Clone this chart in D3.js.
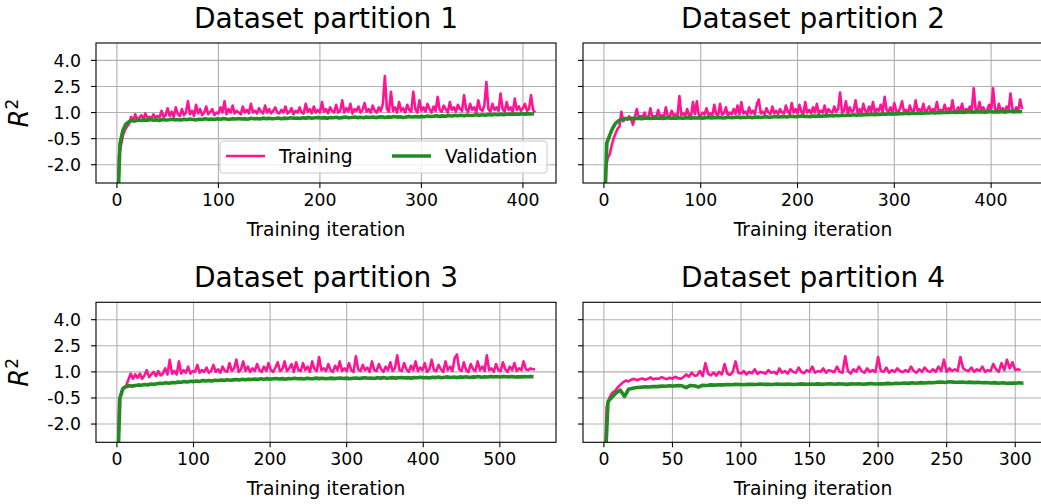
<!DOCTYPE html>
<html>
<head>
<meta charset="utf-8">
<script src="https://cdn.jsdelivr.net/npm/d3@7"></script>
<style>
  body { margin: 0; background: #fff; }
  svg { font-family: "DejaVu Sans", sans-serif; }
</style>
</head>
<body>
<svg id="chart" width="1041" height="504"></svg>
<script>
var titles = ["Dataset partition 1", "Dataset partition 2", "Dataset partition 3", "Dataset partition 4"];
var lastIter = [412, 432, 546, 305];
var trainStep = [2, 2, 3, 2];
var valStep = [3, 3, 4, 3];
var xTicks = [
  [0, 100, 200, 300, 400],
  [0, 100, 200, 300, 400],
  [0, 100, 200, 300, 400, 500],
  [0, 50, 100, 150, 200, 250, 300]
];
var yTicks = [-2, -0.5, 1, 2.5, 4];
var yTickLabels = ["-2.0", "-0.5", "1.0", "2.5", "4.0"];
var seriesNames = ["Training", "Validation"];

// R^2 per iteration
var train1 = [
  -6, -1.5, -0.9, -0.3, 0.0, 0.2, 0.35, 0.75, 0.5, 0.9,
  0.6, 0.7, 0.85, 0.65, 0.95, 0.7, 0.75, 0.65, 0.9, 0.7,
  0.8, 0.72, 1.1, 0.75, 0.85, 1.25, 0.8, 1.05, 0.75, 1.3,
  0.9, 0.8, 1.2, 0.85, 1.0, 1.65, 0.9, 1.1, 0.8, 1.45,
  0.95, 1.2, 0.85, 1.0, 1.35, 0.9, 1.05, 1.2, 0.85, 1.0,
  0.95, 1.3, 1.0, 1.65, 0.9, 1.2, 1.0, 1.4, 0.95, 1.1,
  1.0, 0.9, 1.35, 1.0, 1.15, 0.95, 1.5, 1.0, 1.1, 0.95,
  1.25, 1.05, 0.95, 1.4, 1.0, 1.2, 0.95, 1.1, 1.3, 1.0,
  0.95, 1.15, 1.0, 1.35, 0.95, 1.05, 1.25, 0.9, 1.1, 1.0,
  1.3, 1.0, 0.95, 1.5, 1.05, 1.2, 0.95, 1.35, 1.0, 1.15,
  1.0, 1.6, 1.05, 1.2, 0.95, 1.3, 1.1, 1.0, 1.45, 1.0,
  1.1, 1.7, 1.0, 1.25, 1.05, 1.5, 0.95, 1.2, 1.1, 1.35,
  1.0, 1.15, 1.55, 1.05, 1.2, 1.0, 1.4, 1.1, 1.0, 1.3,
  1.1, 1.5, 3.1, 1.2, 1.05, 2.2, 1.1, 1.3, 1.0, 1.6,
  1.1, 1.25, 1.0, 1.45, 1.15, 1.05, 2.2, 1.2, 1.0, 1.7,
  1.1, 1.3, 1.05, 1.5, 1.2, 1.0, 1.35, 1.1, 1.9, 1.15,
  1.05, 1.4, 1.2, 1.0, 1.6, 1.15, 1.3, 1.05, 1.45, 1.2,
  1.1, 2.0, 1.2, 1.05, 1.5, 1.15, 1.3, 1.0, 1.7, 1.2,
  1.1, 1.4, 2.75, 1.2, 1.05, 1.5, 1.15, 1.3, 1.1, 2.1,
  1.2, 1.05, 1.6, 1.15, 1.3, 1.0, 1.8, 1.15, 1.35, 1.1,
  1.25, 1.5, 1.1, 1.2, 2.0, 1.15, 1.0
];
var val1 = [
  -6, -0.8, 0.0, 0.35, 0.48, 0.55, 0.52, 0.57, 0.55, 0.58,
  0.55, 0.6, 0.56, 0.58, 0.54, 0.6, 0.57, 0.59, 0.62, 0.58,
  0.6, 0.57, 0.62, 0.59, 0.63, 0.6, 0.58, 0.62, 0.6, 0.64,
  0.61, 0.63, 0.6, 0.65, 0.62, 0.66, 0.63, 0.61, 0.65, 0.63,
  0.66, 0.63, 0.65, 0.62, 0.67, 0.64, 0.66, 0.63, 0.68, 0.65,
  0.67, 0.64, 0.66, 0.69, 0.65, 0.68, 0.66, 0.7, 0.67, 0.69,
  0.66, 0.7, 0.68, 0.71, 0.67, 0.7, 0.72, 0.69, 0.71, 0.68,
  0.72, 0.7, 0.73, 0.69, 0.71, 0.74, 0.7, 0.72, 0.75, 0.71,
  0.73, 0.7, 0.74, 0.72, 0.75, 0.71, 0.74, 0.76, 0.72, 0.75,
  0.73, 0.77, 0.74, 0.76, 0.72, 0.75, 0.78, 0.74, 0.77, 0.75,
  0.78, 0.76, 0.8, 0.77, 0.79, 0.82, 0.78, 0.81, 0.79, 0.83,
  0.8, 0.84, 0.82, 0.85, 0.81, 0.86, 0.83, 0.85, 0.88, 0.84,
  0.87, 0.85, 0.89, 0.86, 0.9, 0.87, 0.91, 0.88, 0.9, 0.92,
  0.89, 0.92, 0.9, 0.93, 0.91, 0.94, 0.92, 0.93
];
var train2 = [
  -6, -2.2, -1.6, -1.4, -0.9, -0.5, -0.2, 0.05, 0.2, 1.05,
  0.5, 0.7, 0.6, 0.78, 0.65, 0.3, 0.75, 1.2, 0.7, 0.8,
  0.72, 1.0, 0.68, 0.75, 1.25, 0.7, 0.8, 0.72, 1.15, 0.75,
  0.85, 0.72, 1.3, 0.8, 0.75, 1.1, 0.82, 0.9, 0.78, 1.95,
  0.85, 0.95, 0.8, 1.2, 0.85, 0.78, 1.6, 0.9, 1.65, 0.85,
  0.8, 1.0, 0.88, 1.25, 0.85, 0.95, 0.82, 1.45, 0.9, 0.85,
  1.5, 0.88, 0.95, 1.3, 0.85, 1.0, 0.9, 1.2, 0.92, 1.4,
  0.9, 1.6, 0.95, 1.05, 0.88, 1.3, 0.95, 1.1, 0.9, 1.5,
  1.75, 0.95, 1.05, 0.9, 1.25, 1.0, 0.92, 1.35, 0.95, 1.1,
  0.92, 1.2, 1.0, 0.95, 1.4, 1.05, 0.9, 1.55, 1.0, 1.2,
  0.95, 1.45, 1.05, 0.9, 1.6, 1.0, 1.15, 0.95, 1.3, 1.0,
  1.5, 0.95, 1.1, 1.0, 1.4, 0.92, 1.2, 1.05, 1.0, 1.35,
  1.05, 1.2, 2.15, 1.0, 1.1, 1.65, 0.95, 1.3, 1.05, 1.15,
  1.7, 1.0, 1.2, 0.95, 1.5, 1.1, 1.0, 1.35, 1.05, 1.6,
  1.0, 1.2, 1.1, 1.45, 1.0, 1.9, 1.15, 1.05, 1.3, 1.0,
  1.55, 1.1, 1.0, 1.25, 1.65, 1.05, 1.15, 0.95, 1.4, 1.1,
  1.0, 1.7, 1.1, 1.2, 1.05, 1.5, 1.0, 1.15, 1.35, 1.05,
  1.2, 1.1, 1.6, 1.0, 1.15, 1.05, 1.45, 1.1, 1.25, 1.0,
  1.7, 1.1, 1.05, 1.3, 1.1, 1.5, 1.0, 1.2, 1.1, 1.35,
  1.1, 2.4, 1.2, 1.05, 1.6, 1.1, 1.3, 1.0, 1.15, 1.45,
  1.1, 2.4, 1.2, 1.05, 1.5, 1.1, 1.25, 1.0, 1.35, 1.1,
  2.1, 1.2, 1.05, 1.3, 1.1, 1.75, 1.2
];
var val2 = [
  -6, -0.75, -0.3, 0.1, 0.38, 0.52, 0.6, 0.63, 0.66, 0.65,
  0.67, 0.66, 0.68, 0.65, 0.67, 0.69, 0.66, 0.68, 0.67, 0.69,
  0.66, 0.68, 0.7, 0.67, 0.69, 0.68, 0.7, 0.67, 0.69, 0.71,
  0.68, 0.7, 0.69, 0.71, 0.68, 0.7, 0.72, 0.69, 0.71, 0.7,
  0.72, 0.69, 0.71, 0.73, 0.7, 0.72, 0.74, 0.71, 0.73, 0.72,
  0.74, 0.71, 0.73, 0.75, 0.72, 0.74, 0.76, 0.73, 0.75, 0.77,
  0.74, 0.76, 0.78, 0.75, 0.77, 0.79, 0.76, 0.78, 0.8, 0.77,
  0.79, 0.76, 0.8, 0.78, 0.81, 0.79, 0.82, 0.8, 0.83, 0.81,
  0.84, 0.82, 0.85, 0.83, 0.86, 0.84, 0.87, 0.85, 0.88, 0.86,
  0.89, 0.87, 0.9, 0.88, 0.91, 0.89, 0.92, 0.9, 0.93, 0.91,
  0.94, 0.92, 0.95, 0.93, 0.96, 0.94, 0.97, 0.95, 0.96, 0.98,
  0.96, 0.99, 0.97, 1.0, 0.98, 1.01, 0.99, 1.02, 1.0, 1.01,
  1.03, 1.0, 1.02, 1.04, 1.01, 1.03, 1.05, 1.02, 1.04, 1.03,
  1.05, 1.02, 1.04, 1.06, 1.03, 1.05, 1.04, 1.06, 1.03, 1.05,
  1.07, 1.04, 1.06, 1.05, 1.07
];
var train3 = [
  -6, -0.6, -0.1, 0.1, 0.2, 0.55, 0.9, 0.6, 0.85, 0.65,
  0.9, 0.6, 0.8, 1.1, 0.7, 0.85, 1.0, 0.75, 1.05, 0.8,
  0.9, 1.2, 0.85, 1.7, 0.9, 1.05, 0.85, 1.6, 0.9, 1.1,
  0.95, 1.3, 0.9, 1.05, 1.0, 1.4, 0.95, 1.1, 1.0, 1.25,
  0.95, 1.05, 1.4, 1.0, 1.15, 0.95, 1.3, 1.05, 1.0, 1.5,
  1.05, 1.2, 1.7, 1.0, 1.15, 1.6, 1.05, 1.3, 1.0, 1.2,
  1.05, 1.45, 1.1, 1.0, 1.3, 1.05, 1.5, 1.1, 1.0, 1.25,
  1.55, 1.05, 1.15, 1.6, 1.05, 1.2, 1.45, 1.0, 1.55, 1.1,
  1.05, 1.5, 1.1, 1.3, 1.0, 1.6, 1.15, 1.05, 1.85, 1.1,
  1.2, 1.05, 1.45, 1.1, 1.0, 1.35, 1.1, 1.6, 1.05, 1.2,
  1.05, 1.5, 1.1, 1.0, 1.9, 1.15, 1.05, 1.4, 1.1, 1.25,
  1.0, 1.6, 1.1, 1.05, 1.45, 1.15, 1.0, 1.3, 1.1, 1.55,
  1.05, 1.2, 1.95, 1.1, 1.05, 1.5, 1.15, 1.0, 1.35, 1.1,
  1.6, 1.05, 1.25, 1.1, 1.5, 1.0, 1.15, 1.7, 1.1, 1.05,
  1.4, 1.15, 1.0, 1.6, 1.1, 1.3, 1.05, 1.8, 2.0, 1.15,
  1.05, 1.55, 1.1, 1.0, 1.45, 1.15, 1.05, 1.6, 1.1, 1.3,
  1.05, 1.95, 1.1, 1.2, 1.0, 1.45, 1.1, 1.05, 1.55, 1.15,
  1.0, 1.3, 1.1, 1.5, 1.05, 1.2, 1.1, 1.6, 1.15, 1.1,
  1.2, 1.15, 1.15
];
var val3 = [
  -6, -0.5, 0.05, 0.15, 0.2, 0.18, 0.22, 0.25, 0.23, 0.27,
  0.25, 0.3, 0.28, 0.32, 0.35, 0.33, 0.37, 0.35, 0.39, 0.37,
  0.41, 0.4, 0.44, 0.42, 0.46, 0.44, 0.48, 0.45, 0.5, 0.47,
  0.5, 0.48, 0.52, 0.5, 0.53, 0.51, 0.55, 0.52, 0.54, 0.56,
  0.53, 0.57, 0.55, 0.58, 0.56, 0.59, 0.56, 0.6, 0.58, 0.61,
  0.58, 0.6, 0.62, 0.59, 0.61, 0.58, 0.62, 0.6, 0.63, 0.6,
  0.62, 0.59, 0.63, 0.61, 0.6, 0.64, 0.61, 0.63, 0.6, 0.62,
  0.64, 0.61, 0.63, 0.65, 0.62, 0.64, 0.6, 0.63, 0.65, 0.62,
  0.64, 0.66, 0.63, 0.65, 0.62, 0.66, 0.64, 0.67, 0.63, 0.65,
  0.67, 0.64, 0.66, 0.68, 0.65, 0.67, 0.64, 0.68, 0.66, 0.69,
  0.66, 0.68, 0.65, 0.69, 0.67, 0.7, 0.66, 0.69, 0.71, 0.68,
  0.7, 0.67, 0.71, 0.69, 0.72, 0.68, 0.71, 0.7, 0.73, 0.69,
  0.72, 0.7, 0.74, 0.71, 0.73, 0.7, 0.74, 0.72, 0.71, 0.73,
  0.7, 0.72, 0.71, 0.73, 0.72, 0.73, 0.72
];
var train4 = [
  -6, -1.0, -0.5, -0.2, -0.1, 0.1, 0.25, 0.4, 0.5, 0.45,
  0.55, 0.6, 0.52, 0.58, 0.62, 0.55, 0.6, 0.68, 0.57, 0.62,
  0.6, 0.7, 0.63, 0.58, 0.66, 0.61, 0.72, 0.64, 0.6, 0.7,
  0.85, 0.72, 0.95, 0.78, 0.8, 1.05, 0.75, 1.5, 0.9, 0.8,
  0.95, 0.78, 1.0, 0.85, 1.45, 0.9, 0.82, 1.0, 1.6, 0.95,
  0.9, 1.05, 0.85, 1.0, 0.92, 1.15, 0.88, 1.0, 0.95, 0.9,
  1.1, 0.95, 1.0, 0.88, 1.2, 0.95, 1.05, 0.9, 1.15, 1.0,
  0.95, 1.25, 1.0, 0.92, 1.1, 1.0, 1.3, 0.95, 1.05, 1.0,
  1.2, 0.95, 1.1, 1.05, 0.98, 1.3, 1.0, 0.95, 1.9, 1.05,
  0.9, 1.15, 1.0, 1.3, 1.05, 0.95, 1.2, 1.0, 1.1, 0.98,
  1.85, 1.05, 1.0, 1.25, 0.95, 1.1, 1.0, 1.2, 1.05, 0.98,
  1.1, 1.0, 1.3, 1.05, 0.95, 1.15, 1.0, 1.25, 1.05, 1.0,
  1.15, 1.0, 1.3, 1.05, 1.7, 1.0, 1.2, 1.05, 1.15, 1.05,
  1.85, 1.2, 1.1, 1.05, 1.25, 1.0, 1.15, 1.05, 1.3, 1.0,
  1.1, 1.05, 1.45, 1.15, 1.0, 1.5, 1.1, 1.7, 1.2, 1.55,
  1.1, 1.15, 1.1
];
var val4 = [
  -6, -0.7, -0.45, -0.2, -0.05, -0.42, 0.0, 0.06, 0.1, 0.12,
  0.14, 0.13, 0.16, 0.15, 0.18, 0.17, 0.2, 0.19, 0.21, 0.2,
  0.09, 0.22, 0.2, 0.13, 0.23, 0.22, 0.25, 0.24, 0.26, 0.25,
  0.27, 0.26, 0.28, 0.27, 0.26, 0.29, 0.28, 0.27, 0.3, 0.28,
  0.29, 0.27, 0.3, 0.29, 0.28, 0.3, 0.27, 0.29, 0.31, 0.28,
  0.3, 0.29, 0.31, 0.28, 0.3, 0.32, 0.29, 0.31, 0.3, 0.28,
  0.31, 0.3, 0.32, 0.29, 0.31, 0.33, 0.3, 0.32, 0.31, 0.34,
  0.32, 0.35, 0.33, 0.36, 0.34, 0.37, 0.35, 0.38, 0.36, 0.39,
  0.37, 0.4, 0.42, 0.39, 0.43, 0.41, 0.4, 0.42, 0.39, 0.41,
  0.38, 0.4, 0.37, 0.39, 0.36, 0.38, 0.35, 0.37, 0.34, 0.36,
  0.35, 0.37, 0.35
];
var trainData = [train1, train2, train3, train4];
var valData = [val1, val2, val3, val4];

var trainColor = "#ff1493";
var valColor = "#228b22";

var svg = d3.select("#chart");
var W = 460, H = 140;
var lefts = [96, 583, 96, 583];
var tops = [43, 43, 302.3, 302.3];

for (let p = 0; p < 4; p++) {
  let g = svg.append("g").attr("transform", "translate(" + lefts[p] + "," + tops[p] + ")");
  let M = lastIter[p];
  let x = d3.scaleLinear().domain([-0.05 * M, 1.05 * M]).range([0, W]);
  let y = d3.scaleLinear().domain([-3.05, 5]).range([H, 0]);

  // grid
  g.selectAll(".gx").data(xTicks[p]).enter().append("line")
    .attr("x1", d => x(d)).attr("x2", d => x(d))
    .attr("y1", 0).attr("y2", H)
    .style("stroke", "#b0b0b0").style("stroke-width", 1.1);
  g.selectAll(".gy").data(yTicks).enter().append("line")
    .attr("x1", 0).attr("x2", W)
    .attr("y1", d => y(d)).attr("y2", d => y(d))
    .style("stroke", "#b0b0b0").style("stroke-width", 1.1);

  svg.append("clipPath").attr("id", "clip" + p)
    .append("rect").attr("width", W).attr("height", H);
  let plot = g.append("g").attr("clip-path", "url(#clip" + p + ")");

  let lineT = d3.line().x((d, i) => x(i * trainStep[p])).y(d => y(d));
  let lineV = d3.line().x((d, i) => x(i * valStep[p])).y(d => y(d));
  plot.append("path").datum(trainData[p]).attr("d", lineT)
    .style("fill", "none").style("stroke", trainColor).style("stroke-width", 2.6)
    .style("stroke-linejoin", "round");
  plot.append("path").datum(valData[p]).attr("d", lineV)
    .style("fill", "none").style("stroke", valColor).style("stroke-width", 3.6)
    .style("stroke-linejoin", "round");

  // frame
  g.append("rect").attr("width", W).attr("height", H)
    .style("fill", "none").style("stroke", "#000").style("stroke-width", 1.1);

  // x ticks
  let xt = g.selectAll(".xt").data(xTicks[p]).enter().append("g")
    .attr("transform", d => "translate(" + x(d) + "," + H + ")");
  xt.append("line").attr("y1", 0).attr("y2", 5).style("stroke", "#000").style("stroke-width", 1.1);
  xt.append("text").attr("y", 23).attr("text-anchor", "middle")
    .style("font-size", "17.3px").text(d => d);

  // y ticks
  let yt = g.selectAll(".yt").data(yTicks).enter().append("g")
    .attr("transform", d => "translate(0," + y(d) + ")");
  yt.append("line").attr("x1", 0).attr("x2", -5).style("stroke", "#000").style("stroke-width", 1.1);
  if (p % 2 == 0) {
    yt.append("text").attr("x", -15).attr("y", 6.3).attr("text-anchor", "end")
      .style("font-size", "17.3px").text((d, i) => yTickLabels[i]);
    g.append("text")
      .attr("transform", "translate(" + (-68) + "," + (H / 2) + ") rotate(-90)")
      .attr("text-anchor", "middle")
      .style("font-size", "26px")
      .html('<tspan font-style="italic">R</tspan><tspan dy="-10" font-size="17px">2</tspan>');
  }

  g.append("text").attr("x", W / 2).attr("y", H + 53).attr("text-anchor", "middle")
    .style("font-size", "18.7px").text("Training iteration");
  g.append("text").attr("x", W / 2).attr("y", -15).attr("text-anchor", "middle")
    .style("font-size", "28px").text(titles[p]);

  if (p == 0) {
    let lg = g.append("g").attr("transform", "translate(124,98)");
    lg.append("rect").attr("width", 327).attr("height", 32).attr("rx", 3)
      .style("fill", "#fff").style("fill-opacity", 0.8)
      .style("stroke", "#cccccc").style("stroke-width", 1);
    let colors = [trainColor, valColor];
    let widths = [2.6, 3.6];
    let offs = [6, 172];
    seriesNames.forEach((name, k) => {
      lg.append("line").attr("x1", offs[k]).attr("x2", offs[k] + 39)
        .attr("y1", 15).attr("y2", 15)
        .style("stroke", colors[k]).style("stroke-width", widths[k]);
      lg.append("text").attr("x", offs[k] + 53).attr("y", 22)
        .style("font-size", "18.7px").text(name);
    });
  }
}
</script>
</body>
</html>
